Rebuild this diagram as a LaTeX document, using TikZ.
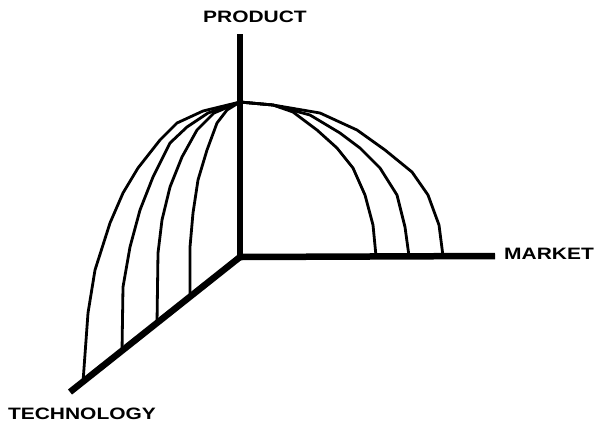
\documentclass[tikz,border=0pt]{standalone}
\usepackage{fontspec}
\usepackage{graphicx}
\newfontfamily\labfont{Liberation Sans}
\newcommand{\lbl}[1]{\scalebox{1.27}[1]{\labfont\bfseries #1}}
\begin{document}
\begin{tikzpicture}[x=1bp,y=-1bp,
  axis/.style={line width=6.5bp, line cap=butt, draw=black},
  arc/.style={line width=2.8bp, line join=round, draw=black},
  lab/.style={inner sep=0pt, font=\fontsize{16.5bp}{18bp}\selectfont, text=black}]
\useasboundingbox (0,0) rectangle (595,426);
\coordinate (O) at (240,257);
\coordinate (P) at (240,34);
\coordinate (M) at (495,256);
\coordinate (T) at (70,392);
\coordinate (A) at (240,102);
% arcs toward technology axis
\draw[arc] (A) -- (203,111) -- (177,123) -- (160,140) -- (138,168) -- (123,193) -- (110,223) -- (95,270) -- (88,313) -- (83,382);
\draw[arc] (A) -- (208,113) -- (187,127) -- (170,143) -- (153,177) -- (140,210) -- (130,247) -- (123,287) -- (122,351);
\draw[arc] (A) -- (214,113) -- (197,130) -- (182,157) -- (170,187) -- (162,220) -- (158,253) -- (157,323);
\draw[arc] (A) -- (227,110) -- (217,123) -- (207,150) -- (198,180) -- (193,213) -- (190,247) -- (190,297);
% arcs toward market axis
\draw[arc] (A) -- (273,105) -- (293,112) -- (317,130) -- (337,148) -- (353,168) -- (365,195) -- (373,225) -- (376,256);
\draw[arc] (A) -- (273,105) -- (310,115) -- (340,133) -- (360,148) -- (380,168) -- (397,195) -- (405,227) -- (409,256);
\draw[arc] (A) -- (273,105) -- (320,113) -- (357,130) -- (385,150) -- (412,172) -- (428,195) -- (439,225) -- (443,256);
% axes
\draw[axis] (O) -- (P);
\draw[axis] (O) -- (M);
\draw[axis] (O) -- (T);
\node[lab] (prod) at (255,17) {\lbl{PRODUCT}};
\node[lab] (mark) at (549,254) {\lbl{MARKET}};
\node[lab] (tech) at (82,414) {\lbl{TECHNOLOGY}};
\end{tikzpicture}
\end{document}
